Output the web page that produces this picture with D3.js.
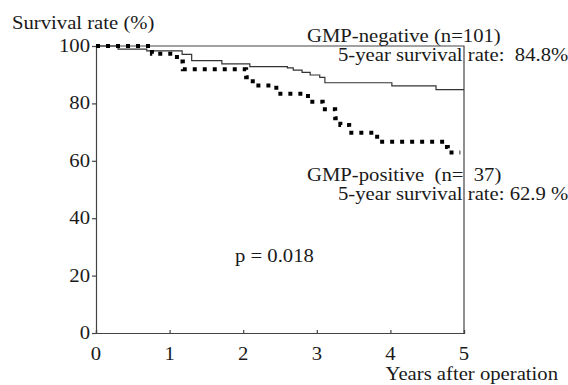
<!DOCTYPE html>
<html>
<head>
<meta charset="utf-8">
<script src="https://cdn.jsdelivr.net/npm/d3@7"></script>
<style>
  body { margin: 0; background: #fff; }
  svg { display: block; }
  text { font-family: "Liberation Serif", "Times New Roman", serif; fill: #1a1a1a; white-space: pre; }
</style>
</head>
<body>
<svg width="568" height="385"></svg>
<script>
// Kaplan-Meier steps (years, % surviving)
var negTime = [0, 0.30, 0.69, 1.17, 1.30, 1.71, 2.09, 2.60, 2.68, 2.80, 2.91, 3.04, 3.11, 4.02, 4.62, 5.0];
var negSurv = [100, 98.9, 98.3, 97.1, 94.9, 93.8, 92.8, 92.4, 91.6, 90.8, 89.9, 89.1, 87.2, 86.1, 84.8, 84.8];

var posTime = [0, 0.76, 1.10, 1.18, 2.04, 2.13, 2.45, 2.88, 3.08, 3.25, 3.32, 3.44, 3.82, 4.74, 4.78, 4.95];
var posSurv = [100, 97.3, 94.6, 91.9, 89.1, 86.2, 83.4, 80.6, 78.0, 74.8, 72.5, 69.8, 66.6, 64.8, 62.9, 62.9];

var xTicks = [0, 1, 2, 3, 4, 5];
var yTicks = [0, 20, 40, 60, 80, 100];

var svg = d3.select("svg"),
	plotLeft = 96,
	plotRight = 464,
	plotTop = 46,
	plotBottom = 333,
	fs = 18,
	sx = 1.15; // the original type is a bit wide

var x = d3.scaleLinear().domain([0, 5]).range([plotLeft, plotRight]);
var y = d3.scaleLinear().domain([0, 100]).range([plotBottom, plotTop]);

// frame top + right
svg.append("path")
	.attr("d", "M" + plotLeft + "," + plotTop + "H" + plotRight + "V" + plotBottom)
	.attr("fill", "none")
	.attr("stroke", "#444")
	.attr("stroke-width", 1.2);

var yAxis = svg.append("g")
	.attr("transform", "translate(" + plotLeft + ",0)")
	.call(d3.axisLeft(y).tickValues(yTicks).tickSize(4).tickFormat(""));
var xAxis = svg.append("g")
	.attr("transform", "translate(0," + plotBottom + ")")
	.call(d3.axisBottom(x).tickValues(xTicks).tickSize(-3).tickFormat(""));
[yAxis, xAxis].forEach(function(a) {
	a.select(".domain").attr("stroke", "#444").attr("stroke-width", 1.2);
	a.selectAll(".tick line").attr("stroke", "#444").attr("stroke-width", 1.2);
});

function label(px, py, str, anchor) {
	return svg.append("text")
		.attr("transform", "translate(" + px + "," + py + ") scale(" + sx + ",1)")
		.attr("text-anchor", anchor || "start")
		.attr("font-size", fs)
		.text(str);
}

yTicks.forEach(function(v) {
	label(plotLeft - 6, y(v) + 6, String(v), "end");
});
xTicks.forEach(function(v) {
	label(x(v), 360, String(v), "middle");
});

var line = d3.line()
	.x(function(d) { return x(d[0]); })
	.y(function(d) { return y(d[1]); })
	.curve(d3.curveStepAfter);

var neg = d3.zip(negTime, negSurv);
var pos = d3.zip(posTime, posSurv);

svg.append("path")
	.datum(neg)
	.attr("d", line)
	.attr("fill", "none")
	.attr("stroke", "#333")
	.attr("stroke-width", 1.2);

svg.append("path")
	.datum(pos)
	.attr("d", line)
	.attr("fill", "none")
	.attr("stroke", "#000")
	.attr("stroke-width", 4)
	.attr("stroke-dasharray", "4,6");

label(12, 29, "Survival rate (%)");
label(558, 380, "Years after operation", "end");
label(307, 42, "GMP-negative (n=101)");
label(338, 61, "5-year survival rate:  84.8%");
label(307, 181, "GMP-positive  (n=  37)");
label(338, 200, "5-year survival rate: 62.9 %");
label(235, 262, "p = 0.018");
</script>
</body>
</html>
